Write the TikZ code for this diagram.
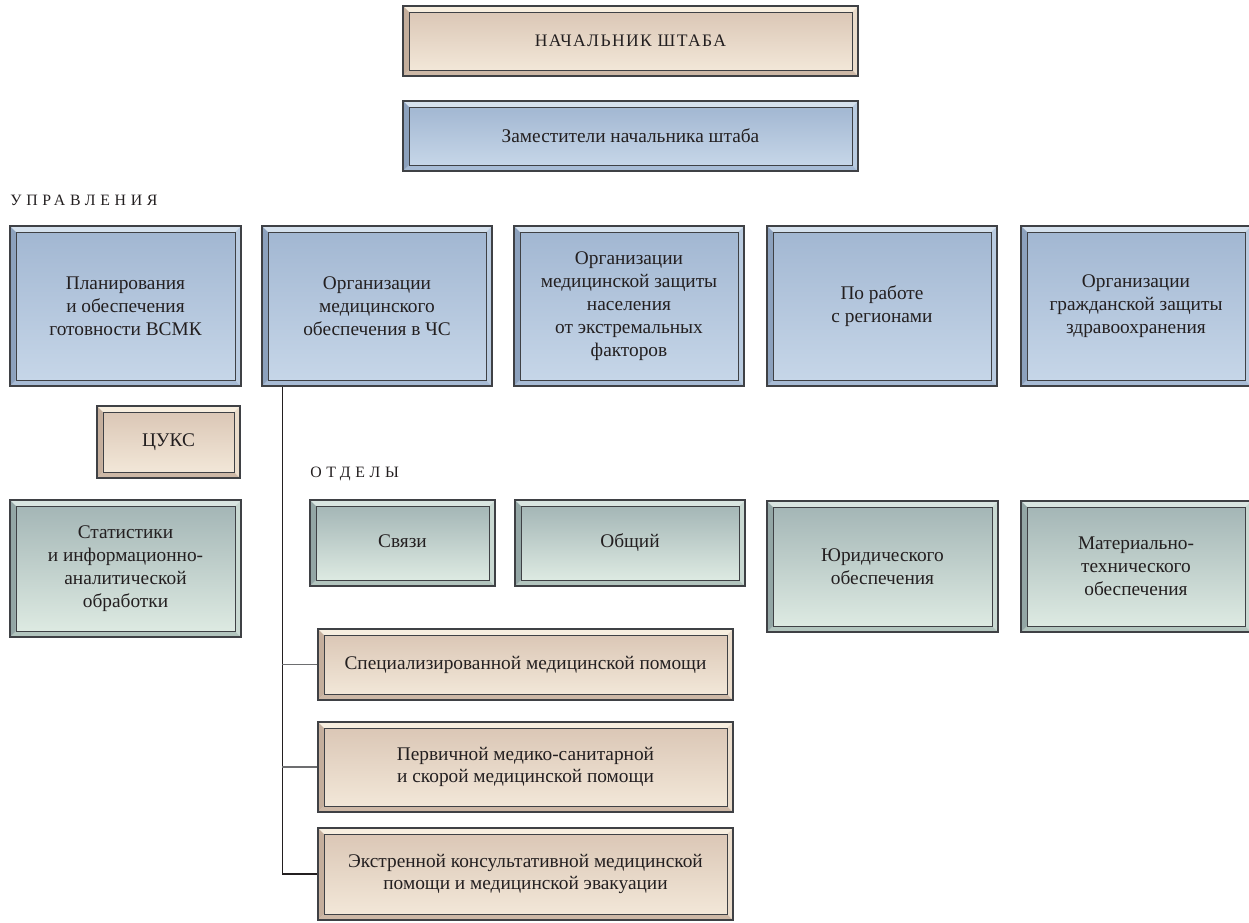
\documentclass[tikz,border=0pt]{standalone}
\usepackage{fontspec}
\setmainfont{Liberation Serif}
\usetikzlibrary{calc}

\definecolor{boxedge}{HTML}{3F4145}
\definecolor{txt}{HTML}{231F20}
\definecolor{linegray}{HTML}{6D6E70}
% beige
\definecolor{beTop}{HTML}{DBC7B6}
\definecolor{beBot}{HTML}{F2E7D8}
\definecolor{beT}{HTML}{F7EEDF}
\definecolor{beL}{HTML}{C4AE9C}
\definecolor{beB}{HTML}{CDB8A6}
\definecolor{beR}{HTML}{EADCCB}
% blue
\definecolor{blTop}{HTML}{A2B7D2}
\definecolor{blBot}{HTML}{C6D6E8}
\definecolor{blT}{HTML}{D5E1ED}
\definecolor{blL}{HTML}{8CA1BD}
\definecolor{blB}{HTML}{A7BBD5}
\definecolor{blR}{HTML}{B9CBE0}
% green
\definecolor{grTop}{HTML}{A4B6B6}
\definecolor{grBot}{HTML}{DDEAE2}
\definecolor{grT}{HTML}{D9E5E1}
\definecolor{grL}{HTML}{93A6A5}
\definecolor{grB}{HTML}{B2C5BE}
\definecolor{grR}{HTML}{C9D9D2}

\def\bw{1.2mm}

\tikzset{
  box/.style={draw=boxedge, line width=0.7pt, inner sep=0pt, align=center,
    text=txt, font=\fontsize{11}{13}\selectfont},
  sz/.style 2 args={minimum width=#1*0.02cm, minimum height=#2*0.02cm},
  bevel/.style={box, path picture={
    \coordinate (bvA) at (path picture bounding box.north west);
    \coordinate (bvB) at (path picture bounding box.north east);
    \coordinate (bvC) at (path picture bounding box.south east);
    \coordinate (bvD) at (path picture bounding box.south west);
    \coordinate (bvAi) at ($(bvA)+(\bw,-\bw)$);
    \coordinate (bvBi) at ($(bvB)+(-\bw,-\bw)$);
    \coordinate (bvCi) at ($(bvC)+(-\bw,\bw)$);
    \coordinate (bvDi) at ($(bvD)+(\bw,\bw)$);
    \fill[#1T] (bvA) -- (bvB) -- (bvBi) -- (bvAi) -- cycle;
    \fill[#1R] (bvB) -- (bvC) -- (bvCi) -- (bvBi) -- cycle;
    \fill[#1B] (bvC) -- (bvD) -- (bvDi) -- (bvCi) -- cycle;
    \fill[#1L] (bvD) -- (bvA) -- (bvAi) -- (bvDi) -- cycle;
    \shade[top color=#1Top, bottom color=#1Bot] (bvAi) rectangle (bvCi);
    \draw[boxedge, line width=0.5pt] (bvAi) rectangle (bvCi);
  }},
  caption/.style={anchor=west, inner sep=0pt, text=txt,
    font=\fontsize{9}{11}\selectfont\addfontfeature{LetterSpace=30}},
  link/.style={draw=linegray, line width=0.6pt},
  mainlink/.style={draw=txt, line width=0.6pt},
}

\begin{document}
\begin{tikzpicture}[x=0.02cm, y=-0.02cm]
  \useasboundingbox (0,0) rectangle (1249,923);

  % head
  \node[bevel=be, sz={455}{70}] (head) at (630.5,41)
    {\addfontfeature{LetterSpace=8}\fontsize{10}{12}\selectfont НАЧАЛЬНИК ШТАБА};
  \node[bevel=bl, sz={455}{70}] (deputy) at (630.5,136) {Заместители начальника штаба};

  % departments
  \node[caption] (uprlabel) at (10,200) {УПРАВЛЕНИЯ};
  \node[bevel=bl, sz={231}{160}] (plan) at (125.5,306)
    {Планирования\\и обеспечения\\готовности ВСМК};
  \node[bevel=bl, sz={230}{160}] (orgmed) at (377,306)
    {Организации\\медицинского\\обеспечения в ЧС};
  \node[bevel=bl, sz={230}{160}] (protect) at (629,306)
    {Организации\\медицинской защиты\\населения\\от экстремальных\\факторов};
  \node[bevel=bl, sz={230}{160}] (regions) at (882,306)
    {По работе\\с регионами};
  \node[bevel=bl, sz={230}{160}] (civil) at (1136,306)
    {Организации\\гражданской защиты\\здравоохранения};

  \node[bevel=be, sz={143}{72}] (cuks) at (168.5,442) {ЦУКС};

  % sections
  \node[caption] (otdlabel) at (310,474) {ОТДЕЛЫ};
  \node[bevel=gr, sz={231}{137}] (stat) at (125.5,568.5)
    {Статистики\\и информационно-\\аналитической\\обработки};
  \node[bevel=gr, sz={185}{86}] (svyaz) at (402.5,543) {\strut Связи};
  \node[bevel=gr, sz={230}{86}] (common) at (630,543) {\strut Общий};
  \node[bevel=gr, sz={231}{131}] (legal) at (882.5,566.5)
    {Юридического\\обеспечения};
  \node[bevel=gr, sz={230}{131}] (supply) at (1136,566.5)
    {Материально-\\технического\\обеспечения};

  \node[bevel=be, sz={415}{71}] (spec) at (525.5,664.5)
    {Специализированной медицинской помощи};
  \node[bevel=be, sz={415}{90}] (prim) at (525.5,767)
    {Первичной медико-санитарной\\и скорой медицинской помощи};
  \node[bevel=be, sz={415}{92}] (emerg) at (525.5,874)
    {Экстренной консультативной медицинской\\помощи и медицинской эвакуации};

  % connectors
  \coordinate (trunk) at ($(orgmed.south west)+(21,0)$);
  \draw[mainlink] (trunk) |- (emerg.west);
  \foreach \n in {spec,prim}
    \draw[link] (trunk |- \n.west) -- (\n.west);
\end{tikzpicture}
\end{document}
